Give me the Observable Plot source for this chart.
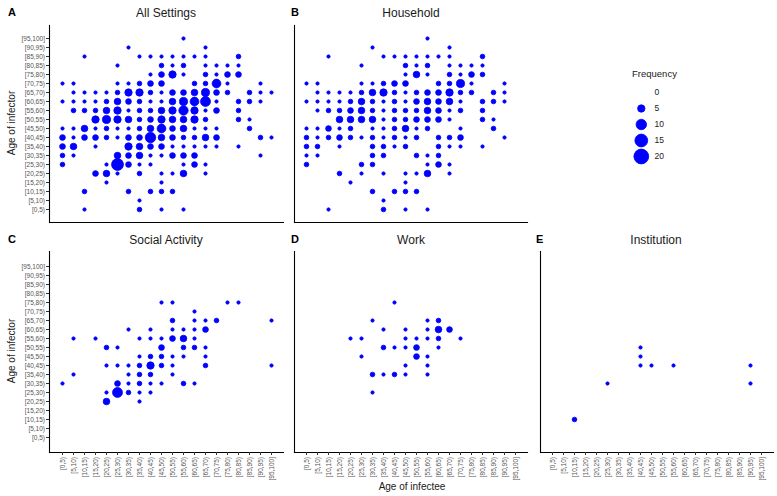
<!DOCTYPE html>
<html><head><meta charset="utf-8">
<script src="https://cdn.jsdelivr.net/npm/d3@7"></script>
<script src="https://cdn.jsdelivr.net/npm/@observablehq/plot@0.6"></script>
<style>
body{margin:0;background:#fff;font-family:"Liberation Sans",Arial,sans-serif;}
#root{position:relative;width:777px;height:496px;overflow:hidden;}
.abs{position:absolute;white-space:nowrap;line-height:1;}
.title{font-size:12px;color:#1a1a1a;transform:translate(-50%,-50%);}
.tag{font-size:11px;font-weight:bold;color:#000;transform:translateY(-50%);}
.axlab{font-size:10px;color:#1a1a1a;}
.leg{font-size:9px;color:#1a1a1a;}
</style></head><body><div id="root"></div>
<script>
// Age bins (5-year) used on both axes
const ageBins = ["[0,5)","[5,10)","[10,15)","[15,20)","[20,25)","[25,30)","[30,35)","[35,40)","[40,45)","[45,50)",
  "[50,55)","[55,60)","[60,65)","[65,70)","[70,75)","[75,80)","[80,85)","[85,90)","[90,95)","[95,100]"];
const legendValues = [0, 5, 10, 15, 20];

// [infectee age lower bound, infector age lower bound, frequency]
const allSettings = [
  [55,95,1],
  [30,90,1],[65,90,1],
  [10,85,1],[35,85,1],[40,85,1],[45,85,1],[50,85,1],[55,85,1],[60,85,1],[65,85,1],[80,85,2],
  [25,80,1],[45,80,2],[50,80,1],[55,80,2],[65,80,1],[70,80,1],[75,80,1],[80,80,1],
  [40,75,1],[45,75,3],[50,75,5],[55,75,1],[65,75,2],[70,75,1],[75,75,3],[80,75,3],
  [0,70,1],[5,70,1],[25,70,1],[30,70,1],[35,70,2],[40,70,3],[45,70,3],[60,70,2],[65,70,2],[70,70,7],[75,70,1],[90,70,1],
  [5,65,1],[10,65,1],[15,65,1],[20,65,1],[25,65,2],[30,65,5],[35,65,5],[40,65,2],[45,65,1],[50,65,3],[55,65,3],[60,65,4],[65,65,6],[70,65,3],[75,65,2],[85,65,2],[90,65,1],[95,65,1],
  [0,60,1],[5,60,1],[10,60,1],[15,60,1],[20,60,2],[25,60,4],[30,60,3],[35,60,2],[40,60,1],[45,60,1],[50,60,4],[55,60,6],[60,60,7],[65,60,9],[70,60,1],[80,60,2],[85,60,2],[90,60,1],
  [5,55,2],[10,55,2],[15,55,2],[20,55,4],[25,55,5],[30,55,1],[35,55,2],[40,55,2],[45,55,4],[50,55,5],[55,55,8],[60,55,5],[65,55,1],[70,55,3],[80,55,2],
  [15,50,5],[20,50,6],[25,50,5],[30,50,4],[35,50,2],[40,50,3],[45,50,5],[50,50,4],[55,50,4],[60,50,5],[65,50,2],[80,50,2],[85,50,1],
  [0,45,1],[5,45,1],[10,45,4],[15,45,1],[20,45,2],[25,45,1],[30,45,1],[35,45,2],[40,45,4],[45,45,7],[50,45,3],[55,45,4],[60,45,1],[65,45,1],[70,45,1],[85,45,2],
  [0,40,3],[5,40,1],[10,40,3],[15,40,3],[20,40,2],[25,40,1],[30,40,3],[35,40,3],[40,40,10],[45,40,4],[50,40,3],[55,40,2],[60,40,2],[65,40,4],[70,40,3],[90,40,2],[95,40,1],
  [0,35,3],[5,35,4],[15,35,1],[30,35,5],[35,35,4],[40,35,3],[45,35,3],[50,35,1],[55,35,1],[60,35,1],[65,35,1],[70,35,1],[80,35,1],
  [0,30,2],[5,30,1],[25,30,4],[30,30,3],[35,30,4],[40,30,1],[45,30,1],[50,30,3],[55,30,3],[60,30,3],[90,30,1],
  [0,25,2],[20,25,1],[25,25,13],[30,25,3],[35,25,1],[40,25,1],[55,25,1],[60,25,3],[65,25,1],
  [15,20,3],[20,20,4],[25,20,1],[35,20,2],[45,20,1],[50,20,1],[55,20,4],[65,20,1],
  [20,15,1],[45,15,1],
  [10,10,2],[30,10,2],[40,10,2],[45,10,2],[50,10,2],
  [35,5,1],
  [10,0,1],[35,0,2],[45,0,1],[55,0,1]
];

const household = [
  [55,95,1],
  [30,90,1],[65,90,1],
  [10,85,1],[35,85,1],[40,85,1],[45,85,1],[50,85,1],[55,85,1],[60,85,1],[65,85,1],[80,85,2],
  [25,80,1],[45,80,2],[50,80,1],[55,80,2],[65,80,1],[70,80,1],[75,80,1],[80,80,1],
  [45,75,1],[50,75,4],[55,75,1],[65,75,2],[70,75,1],[75,75,3],[80,75,2],
  [0,70,1],[5,70,1],[25,70,1],[30,70,1],[35,70,2],[40,70,3],[45,70,3],[60,70,2],[65,70,2],[70,70,6],[75,70,1],[90,70,1],
  [5,65,1],[10,65,1],[15,65,1],[20,65,1],[25,65,2],[30,65,4],[35,65,5],[40,65,2],[45,65,1],[50,65,2],[55,65,3],[60,65,3],[65,65,5],[70,65,2],[75,65,2],[85,65,2],[90,65,1],
  [0,60,1],[5,60,1],[10,60,1],[15,60,1],[20,60,2],[25,60,4],[30,60,2],[35,60,1],[40,60,2],[45,60,1],[50,60,3],[55,60,4],[60,60,3],[65,60,4],[70,60,1],[80,60,2],[85,60,2],[90,60,1],
  [5,55,1],[10,55,2],[15,55,2],[20,55,3],[25,55,4],[30,55,2],[35,55,1],[40,55,2],[45,55,2],[50,55,2],[55,55,4],[60,55,3],[65,55,1],[70,55,2],[80,55,2],
  [15,50,4],[20,50,4],[25,50,4],[30,50,4],[35,50,1],[40,50,2],[45,50,2],[50,50,3],[55,50,3],[60,50,3],[65,50,1],[80,50,2],[85,50,1],
  [0,45,1],[5,45,1],[10,45,3],[15,45,1],[20,45,2],[30,45,1],[35,45,1],[40,45,2],[45,45,4],[50,45,1],[55,45,2],[70,45,1],[85,45,2],
  [0,40,2],[5,40,1],[10,40,2],[15,40,3],[20,40,2],[25,40,1],[30,40,2],[35,40,1],[40,40,2],[45,40,1],[50,40,2],[60,40,2],[65,40,2],[70,40,3],[90,40,1],
  [0,35,2],[5,35,2],[15,35,1],[30,35,2],[35,35,2],[40,35,1],[45,35,2],[60,35,2],[65,35,1],[70,35,1],[80,35,1],
  [0,30,1],[5,30,1],[30,30,2],[35,30,2],[50,30,2],[55,30,1],[60,30,2],
  [0,25,2],[25,25,2],[30,25,2],[55,25,1],[60,25,3],[65,25,1],
  [15,20,2],[25,20,1],[35,20,1],[45,20,1],[50,20,1],[55,20,4],[65,20,1],
  [20,15,1],[45,15,1],
  [30,10,2],[40,10,2],[45,10,2],[50,10,2],
  [35,5,1],
  [10,0,1],[35,0,2],[45,0,1],[55,0,1]
];

const socialActivity = [
  [45,75,1],[50,75,1],[75,75,1],[80,75,1],
  [60,70,1],
  [50,65,2],[60,65,1],[65,65,1],[70,65,2],[95,65,1],
  [30,60,1],[40,60,1],[50,60,1],[55,60,1],[60,60,1],[65,60,3],
  [5,55,1],[15,55,1],[35,55,1],[40,55,1],[45,55,1],[50,55,3],[55,55,4],[60,55,1],
  [20,50,2],[25,50,1],[45,50,3],[55,50,2],[60,50,2],[65,50,1],
  [35,45,1],[40,45,2],[45,45,2],[50,45,1],[55,45,1],[65,45,1],
  [20,40,1],[25,40,1],[30,40,1],[35,40,2],[40,40,5],[45,40,2],[50,40,1],[65,40,2],[95,40,1],
  [5,35,1],[30,35,1],[35,35,2],[40,35,2],[50,35,1],
  [0,30,1],[25,30,3],[30,30,1],[35,30,2],[40,30,1],[45,30,1],[55,30,2],[60,30,1],
  [20,25,1],[25,25,9],[30,25,2],[35,25,1],[40,25,1],
  [20,20,4],[35,20,1]
];

const work = [
  [40,75,1],
  [30,65,1],[55,65,1],[60,65,2],
  [35,60,1],[45,60,1],[55,60,1],[60,60,4],[65,60,3],
  [20,55,1],[25,55,1],[45,55,1],[50,55,1],[55,55,1],[60,55,2],[70,55,1],
  [35,50,2],[40,50,1],[45,50,1],[50,50,3],[60,50,1],
  [25,45,1],[50,45,3],[55,45,1],
  [45,40,1],[55,40,1],
  [30,35,2],[35,35,1],[40,35,2],[45,35,1],[55,35,1],
  [30,25,1]
];

const institution = [
  [10,10,2],[25,30,1],[40,50,1],[40,45,1],[40,40,1],[45,40,1],[55,40,1],[90,40,1],[90,30,1]
];

const root = document.getElementById("root");
const FONT = '"Liberation Sans", Arial, sans-serif';
const BLUE = "#0000ff";
const rScale = {type: "sqrt", domain: [0, 20], range: [0, 7.4]};

function addText(cls, text, x, y, extra) {
  const d = document.createElement("div");
  d.className = "abs " + cls;
  d.textContent = text;
  d.style.left = x + "px";
  d.style.top = y + "px";
  if (extra) Object.assign(d.style, extra);
  root.appendChild(d);
  return d;
}

function panel(data, o) {
  const rows = data.map(([x, y, n]) => ({infectee: ageBins[x / 5], infector: ageBins[y / 5], n}));
  const marks = [
    Plot.frame({anchor: "left", stroke: "#000", strokeWidth: 1.1}),
    Plot.frame({anchor: "bottom", stroke: "#000", strokeWidth: 1.1}),
    Plot.dot(rows, {x: "infectee", y: "infector", r: "n", fill: BLUE, stroke: BLUE, strokeWidth: 0.8})
  ];
  if (o.yAxis) marks.push(Plot.axisY({tickSize: 3, tickPadding: 1.5, fontSize: 6.5, fill: "#555", stroke: "#333", label: null}));
  if (o.xAxis) marks.push(Plot.axisX({tickSize: 3, tickPadding: 1.5, tickRotate: -90, fontSize: 6.5, fill: "#555", stroke: "#333", label: null}));
  const svg = Plot.plot({
    width: o.ml + o.pw + o.mr,
    height: o.mt + o.ph + o.mb,
    marginLeft: o.ml, marginRight: o.mr, marginTop: o.mt, marginBottom: o.mb,
    style: {fontFamily: FONT, background: "transparent", overflow: "visible"},
    x: {type: "point", domain: ageBins, padding: 0.95, axis: null},
    y: {type: "point", domain: ageBins, reverse: true, padding: o.ypad, axis: null},
    r: rScale,
    marks
  });
  svg.style.position = "absolute";
  svg.style.left = (o.axisX - o.ml) + "px";
  svg.style.top = (o.axisTop - o.mt) + "px";
  root.appendChild(svg);
}

// layout: plot areas
const cols = [49, 294, 540];
const PW = 233;
const top1 = 25, ph1 = 197;
const top2 = 251, ph2 = 201;

panel(allSettings, {axisX: cols[0], axisTop: top1, pw: PW + 1, ph: ph1, ml: 49, mr: 4, mt: 5, mb: 4, ypad: 0.92, yAxis: true});
panel(household, {axisX: cols[1], axisTop: top1, pw: PW, ph: ph1, ml: 4, mr: 4, mt: 5, mb: 4, ypad: 0.92});
panel(socialActivity, {axisX: cols[0], axisTop: top2, pw: PW + 1, ph: ph2, ml: 49, mr: 4, mt: 5, mb: 34, ypad: 0.97, yAxis: true, xAxis: true});
panel(work, {axisX: cols[1], axisTop: top2, pw: PW, ph: ph2, ml: 4, mr: 4, mt: 5, mb: 34, ypad: 0.97, xAxis: true});
panel(institution, {axisX: cols[2], axisTop: top2, pw: PW, ph: ph2, ml: 4, mr: 4, mt: 5, mb: 34, ypad: 0.97, xAxis: true});

// titles and tags
addText("title", "All Settings", 166, 13);
addText("title", "Household", 411, 13);
addText("title", "Social Activity", 166, 240);
addText("title", "Work", 411, 240);
addText("title", "Institution", 656, 240);
addText("tag", "A", 8, 12);
addText("tag", "B", 291, 12);
addText("tag", "C", 8, 239);
addText("tag", "D", 291, 239);
addText("tag", "E", 536, 239);

// axis labels
addText("axlab", "Age of infector", 12, 123, {transform: "translate(-50%,-50%) rotate(-90deg)"});
addText("axlab", "Age of infector", 12, 351, {transform: "translate(-50%,-50%) rotate(-90deg)"});
addText("axlab", "Age of infectee", 412, 487, {transform: "translate(-50%,-50%)"});

// size legend
addText("leg", "Frequency", 632, 69, {fontSize: "9.5px"});
const legRows = legendValues.map(v => ({v, label: String(v)}));
const legend = Plot.plot({
  width: 60, height: 81,
  margin: 0,
  style: {fontFamily: FONT, background: "transparent", overflow: "visible"},
  x: {axis: null, domain: [0, 1]},
  y: {type: "point", domain: legendValues, axis: null, padding: 0.5},
  r: rScale,
  marks: [
    Plot.dot(legRows, {x: () => 0.43, y: "v", r: "v", fill: BLUE, stroke: BLUE, strokeWidth: 0.8}),
    Plot.text(legRows, {x: () => 0.65, y: "v", text: "label", textAnchor: "start", fontSize: 8.5, fill: "#1a1a1a"})
  ]
});
legend.style.position = "absolute";
legend.style.left = "615px";
legend.style.top = "83px";
root.appendChild(legend);
</script>
</body></html>
